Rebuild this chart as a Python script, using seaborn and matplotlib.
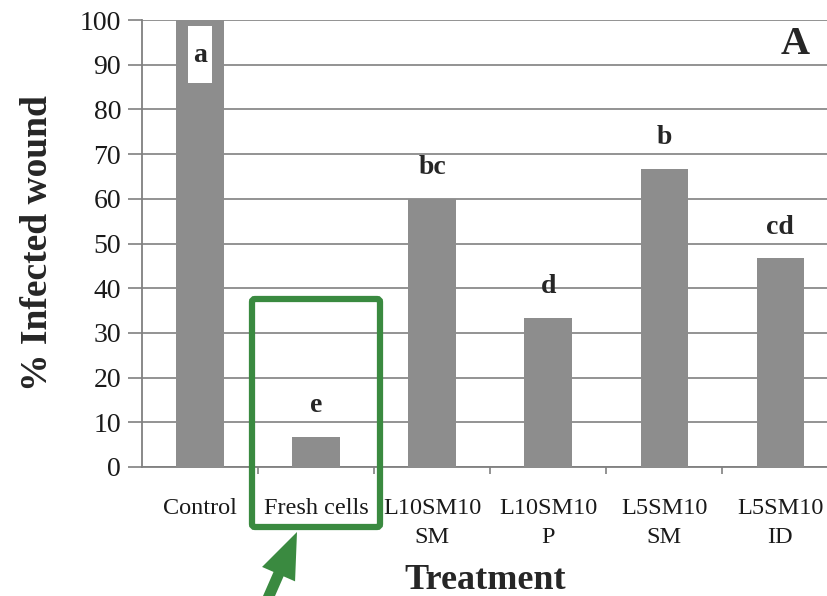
import matplotlib
matplotlib.use("Agg")
import matplotlib.pyplot as plt
from matplotlib.patches import Rectangle, FancyBboxPatch, FancyArrow
import seaborn as sns
import pandas as pd

# Treatment groups and percentage of infected wounds
treatments = ["Control", "Fresh cells", "L10SM10\nSM", "L10SM10\nP", "L5SM10\nSM", "L5SM10\nID"]
infected = [100.0, 6.67, 60.0, 33.33, 66.67, 46.67]
letters = ["a", "e", "bc", "d", "b", "cd"]
y_ticks = list(range(0, 101, 10))

sns.set_theme(style="white")
plt.rcParams["font.family"] = ["Liberation Serif", "DejaVu Serif"]

df = pd.DataFrame({"Treatment": treatments, "Infected": infected})

W, H = 828, 596
fig = plt.figure(figsize=(W / 100, H / 100), dpi=100)
ax = fig.add_axes([142 / W, 129 / H, 686 / W, 447 / H])

sns.barplot(data=df, x="Treatment", y="Infected", ax=ax, color="#8d8d8d",
            saturation=1, width=0.41, edgecolor="none", zorder=3)

ax.set_xlim(-0.5, 5.41)
ax.set_ylim(0, 100)
ax.set_yticks(y_ticks)
ax.set_yticklabels([str(v) for v in y_ticks], fontsize=20, color="#1a1a1a")
ax.grid(axis="y", color="#8a8a8a", linewidth=1.3, zorder=0)
ax.grid(axis="x", visible=False)

for side in ("top", "right"):
    ax.spines[side].set_visible(False)
for side in ("left", "bottom"):
    ax.spines[side].set_color("#808080")
    ax.spines[side].set_linewidth(1.3)

# ticks between categories on x, outward ticks on y
ax.set_xticks(range(len(treatments)))
ax.set_xticklabels(treatments, fontsize=17.5, color="#1a1a1a", linespacing=1.5)
ax.set_xticks([i + 0.5 for i in range(len(treatments) - 1)], minor=True)
ax.tick_params(axis="x", which="major", length=0, pad=22)
ax.tick_params(axis="x", which="minor", length=5, width=1.2, color="#808080", bottom=True)
ax.tick_params(axis="y", which="major", length=10, width=1.3, color="#8a8a8a", left=True, pad=5)

ax.set_ylabel("% Infected wound", fontsize=27, fontweight="bold", labelpad=18)
ax.set_xlabel("Treatment", fontsize=26, fontweight="bold", labelpad=12)

# significance letters
for i, (val, lab) in enumerate(zip(infected, letters)):
    if val >= 95:
        ax.add_patch(Rectangle((i - 0.105, val - 14), 0.21, 12.7, facecolor="white",
                               edgecolor="none", zorder=4))
        ax.text(i, val - 8, lab, ha="center", va="center", fontsize=20,
                fontweight="bold", zorder=5)
    else:
        ax.text(i, val + 7, lab, ha="center", va="center", fontsize=20,
                fontweight="bold", zorder=5)

# panel letter
fig.text(795 / W, 1 - 45 / H, "A", ha="center", va="center", fontsize=29, fontweight="bold")

# highlight box around the fresh cells group, with a pointer arrow
green = "#3a8a40"
box = FancyBboxPatch((252, H - 527), 128, 228, boxstyle="round,pad=0,rounding_size=3",
                     transform=None, facecolor="none", edgecolor=green, linewidth=4.5,
                     zorder=10)
fig.patches.append(box)
arrow = FancyArrow(262, H - 612, 35, 80, width=11, head_width=36, head_length=46,
                   length_includes_head=True, transform=None, color=green,
                   linewidth=0, zorder=10)
fig.patches.append(arrow)

fig.savefig("out.png", dpi=100)
